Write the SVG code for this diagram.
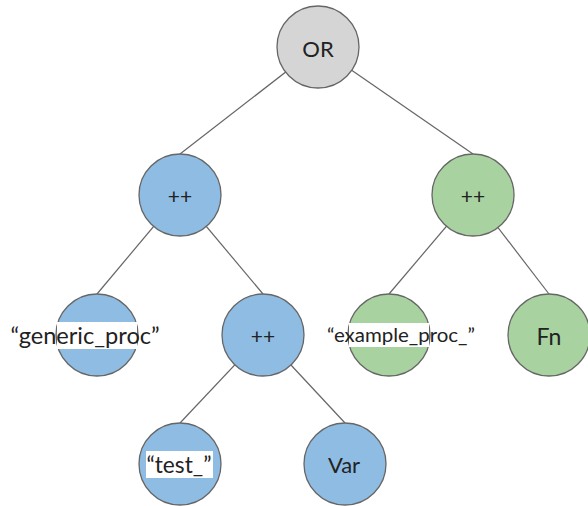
<svg xmlns="http://www.w3.org/2000/svg" width="588" height="506" viewBox="0 0 588 506">
<style>
.n{stroke:#666;stroke-width:1.3}
.b{fill:#8fbce2}
.g{fill:#a8d3a0}
.o{fill:#d5d5d5}
.c{stroke:#666;stroke-width:1.2;fill:none}
text{font-family:"Lato","Open Sans","Liberation Sans",sans-serif;fill:#222;text-anchor:middle;dominant-baseline:central}
.bg{fill:#fff}
</style>
<rect width="588" height="506" fill="#fff"/>
<g id="connectors">
<line class="c" x1="318" y1="47" x2="180" y2="154"/>
<line class="c" x1="318" y1="47" x2="473" y2="154"/>
<line class="c" x1="180" y1="195" x2="97" y2="294"/>
<line class="c" x1="180" y1="195" x2="263" y2="294"/>
<line class="c" x1="263" y1="335" x2="180" y2="423"/>
<line class="c" x1="263" y1="335" x2="345" y2="423"/>
<line class="c" x1="473" y1="195" x2="389" y2="294"/>
<line class="c" x1="473" y1="195" x2="549" y2="294"/>
</g>
<g id="or"><circle class="n o" cx="318" cy="47" r="41"/><text x="318" y="48" font-size="22">OR</text></g>
<g id="plus1"><circle class="n b" cx="180" cy="195" r="41"/><text x="180" y="195" font-size="21">++</text></g>
<g id="plus2"><circle class="n g" cx="473" cy="195" r="41"/><text x="473" y="195" font-size="21">++</text></g>
<g id="generic"><circle class="n b" cx="97" cy="335" r="41"/><rect class="bg" x="57" y="322" width="80" height="27"/><text x="85" y="335" font-size="23" textLength="149" lengthAdjust="spacingAndGlyphs">“generic_proc”</text></g>
<g id="plus3"><circle class="n b" cx="263" cy="335" r="41"/><text x="263" y="335" font-size="21">++</text></g>
<g id="example"><circle class="n g" cx="389" cy="335" r="41"/><rect class="bg" x="349" y="323" width="80" height="24"/><text x="401" y="335" font-size="18.5" textLength="148" lengthAdjust="spacingAndGlyphs">“example_proc_”</text></g>
<g id="fn"><circle class="n g" cx="549" cy="335" r="41"/><text x="549" y="336" font-size="23">Fn</text></g>
<g id="test"><circle class="n b" cx="180" cy="464" r="41"/><rect class="bg" x="146" y="451" width="67" height="27"/><text x="179" y="464" font-size="23" textLength="65" lengthAdjust="spacingAndGlyphs">“test_”</text></g>
<g id="var"><circle class="n b" cx="345" cy="464" r="41"/><text x="344" y="464" font-size="22">Var</text></g>
</svg>
